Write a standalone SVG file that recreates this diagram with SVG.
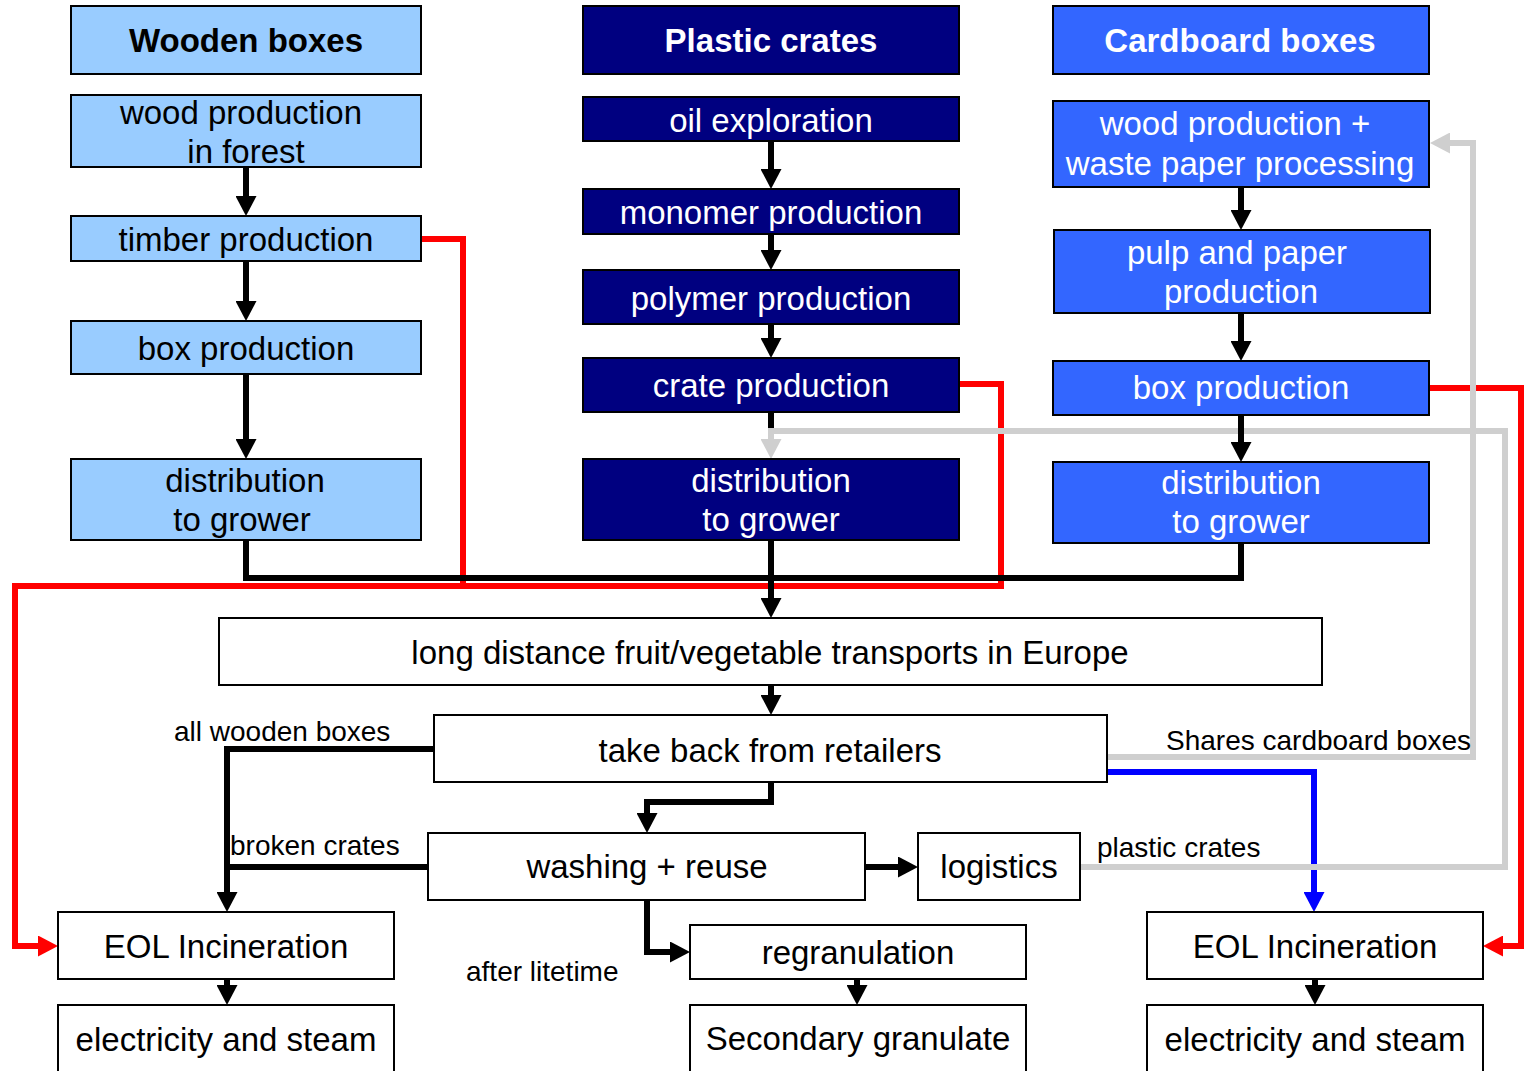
<svg xmlns="http://www.w3.org/2000/svg" width="1525" height="1071" viewBox="0 0 1525 1071">
<style>
.n rect{stroke:#000;stroke-width:2}
.wd rect{fill:#99CCFF}
.pl rect{fill:#000080}
.cb rect{fill:#3366FF}
.wh rect{fill:#fff}
text{font-family:"Liberation Sans",Arial,sans-serif;font-size:33px;text-anchor:middle;fill:#000}
.pl text,.cb text{fill:#fff}
.h text{font-weight:bold}
.lbl{font-size:28px;text-anchor:start}
.c path{fill:none;stroke-width:6;stroke-linejoin:miter}
.k{stroke:#000}
.r{stroke:#FF0000}
.g{stroke:#CFCFCF}
.b{stroke:#0000FF}
</style>
<defs>
<marker id="ak" markerUnits="userSpaceOnUse" markerWidth="20" markerHeight="21" viewBox="0 0 20 21" refX="0" refY="10.5" orient="auto"><path d="M0,0L20,10.5L0,21z" fill="#000"/></marker>
<marker id="ar" markerUnits="userSpaceOnUse" markerWidth="20" markerHeight="21" viewBox="0 0 20 21" refX="0" refY="10.5" orient="auto"><path d="M0,0L20,10.5L0,21z" fill="#FF0000"/></marker>
<marker id="ag" markerUnits="userSpaceOnUse" markerWidth="20" markerHeight="21" viewBox="0 0 20 21" refX="0" refY="10.5" orient="auto"><path d="M0,0L20,10.5L0,21z" fill="#CFCFCF"/></marker>
<marker id="ab" markerUnits="userSpaceOnUse" markerWidth="20" markerHeight="21" viewBox="0 0 20 21" refX="0" refY="10.5" orient="auto"><path d="M0,0L20,10.5L0,21z" fill="#0000FF"/></marker>
</defs>
<rect width="1525" height="1071" fill="#fff"/>
<g id="connectors" class="c">
<path class="b" d="M1107,772H1314V892" marker-end="url(#ab)"/>
<path class="r" d="M1429,388H1521V946H1503" marker-end="url(#ar)"/>
<path class="r" d="M421,239H463V586H15V946H38" marker-end="url(#ar)"/>
<path class="r" d="M959,384H1001V586H460"/>
<path class="g" d="M1107,757H1473V143H1450" marker-end="url(#ag)"/>
<path class="g" d="M1080,867H1505V431H771V439" marker-end="url(#ag)"/>
<path class="k" d="M246,167V196" marker-end="url(#ak)"/>
<path class="k" d="M246,261V301" marker-end="url(#ak)"/>
<path class="k" d="M246,374V439" marker-end="url(#ak)"/>
<path class="k" d="M771,141V169" marker-end="url(#ak)"/>
<path class="k" d="M771,234V250" marker-end="url(#ak)"/>
<path class="k" d="M771,324V338" marker-end="url(#ak)"/>
<path class="k" d="M771,412V428"/>
<path class="k" d="M1241,187V210" marker-end="url(#ak)"/>
<path class="k" d="M1241,313V341" marker-end="url(#ak)"/>
<path class="k" d="M1241,415V442" marker-end="url(#ak)"/>
<path class="k" d="M246,540V578H1241V543"/>
<path class="k" d="M771,540V598" marker-end="url(#ak)"/>
<path class="k" d="M771,685V695" marker-end="url(#ak)"/>
<path class="k" d="M434,749H227V892" marker-end="url(#ak)"/>
<path class="k" d="M428,867H227"/>
<path class="k" d="M771,782V802H647V813" marker-end="url(#ak)"/>
<path class="k" d="M865,867H898" marker-end="url(#ak)"/>
<path class="k" d="M647,900V952H670" marker-end="url(#ak)"/>
<path class="k" d="M857,979V985" marker-end="url(#ak)"/>
<path class="k" d="M227,979V985" marker-end="url(#ak)"/>
<path class="k" d="M1315,979V985" marker-end="url(#ak)"/>
</g>
<g id="wooden-boxes" class="n wd h"><rect x="71" y="6" width="350" height="68"/><text x="246" y="52">Wooden boxes</text></g>
<g id="wood-production-forest" class="n wd"><rect x="71" y="95" width="350" height="72"/><text x="241" y="124">wood production</text><text x="246" y="163">in forest</text></g>
<g id="timber-production" class="n wd"><rect x="71" y="216" width="350" height="45"/><text x="246" y="251">timber production</text></g>
<g id="wood-box-production" class="n wd"><rect x="71" y="321" width="350" height="53"/><text x="246" y="360">box production</text></g>
<g id="wood-distribution" class="n wd"><rect x="71" y="459" width="350" height="81"/><text x="245" y="492">distribution</text><text x="242" y="531">to grower</text></g>

<g id="plastic-crates" class="n pl h"><rect x="583" y="6" width="376" height="68"/><text x="771" y="52">Plastic crates</text></g>
<g id="oil-exploration" class="n pl"><rect x="583" y="97" width="376" height="44"/><text x="771" y="132">oil exploration</text></g>
<g id="monomer-production" class="n pl"><rect x="583" y="189" width="376" height="45"/><text x="771" y="224">monomer production</text></g>
<g id="polymer-production" class="n pl"><rect x="583" y="270" width="376" height="54"/><text x="771" y="310">polymer production</text></g>
<g id="crate-production" class="n pl"><rect x="583" y="358" width="376" height="54"/><text x="771" y="397">crate production</text></g>
<g id="plastic-distribution" class="n pl"><rect x="583" y="459" width="376" height="81"/><text x="771" y="492">distribution</text><text x="771" y="531">to grower</text></g>

<g id="cardboard-boxes" class="n cb h"><rect x="1053" y="6" width="376" height="68"/><text x="1240" y="52">Cardboard boxes</text></g>
<g id="wood-waste-paper" class="n cb"><rect x="1053" y="101" width="376" height="86"/><text x="1235" y="135">wood production +</text><text x="1240" y="175">waste paper processing</text></g>
<g id="pulp-paper" class="n cb"><rect x="1054" y="230" width="376" height="83"/><text x="1237" y="264">pulp and paper</text><text x="1241" y="303">production</text></g>
<g id="cardboard-box-production" class="n cb"><rect x="1053" y="361" width="376" height="54"/><text x="1241" y="399">box production</text></g>
<g id="cardboard-distribution" class="n cb"><rect x="1053" y="462" width="376" height="81"/><text x="1241" y="494">distribution</text><text x="1241" y="533">to grower</text></g>

<g id="long-distance" class="n wh"><rect x="219" y="618" width="1103" height="67"/><text x="770" y="664">long distance fruit/vegetable transports in Europe</text></g>
<g id="take-back" class="n wh"><rect x="434" y="715" width="673" height="67"/><text x="770" y="762">take back from retailers</text></g>
<g id="washing-reuse" class="n wh"><rect x="428" y="833" width="437" height="67"/><text x="647" y="878">washing + reuse</text></g>
<g id="logistics" class="n wh"><rect x="918" y="833" width="162" height="67"/><text x="999" y="878">logistics</text></g>
<g id="regranulation" class="n wh"><rect x="690" y="925" width="336" height="54"/><text x="858" y="964">regranulation</text></g>
<g id="secondary-granulate" class="n wh"><rect x="690" y="1005" width="336" height="80"/><text x="858" y="1050">Secondary granulate</text></g>
<g id="eol-left" class="n wh"><rect x="58" y="912" width="336" height="67"/><text x="226" y="958">EOL Incineration</text></g>
<g id="electricity-left" class="n wh"><rect x="58" y="1005" width="336" height="80"/><text x="226" y="1051">electricity and steam</text></g>
<g id="eol-right" class="n wh"><rect x="1147" y="912" width="336" height="67"/><text x="1315" y="958">EOL Incineration</text></g>
<g id="electricity-right" class="n wh"><rect x="1147" y="1005" width="336" height="80"/><text x="1315" y="1051">electricity and steam</text></g>

<g id="labels">
<text class="lbl" x="174" y="741">all wooden boxes</text>
<text class="lbl" x="230" y="855">broken crates</text>
<text class="lbl" x="466" y="981">after litetime</text>
<text class="lbl" x="1166" y="750">Shares cardboard boxes</text>
<text class="lbl" x="1097" y="857">plastic crates</text>
</g>
</svg>
